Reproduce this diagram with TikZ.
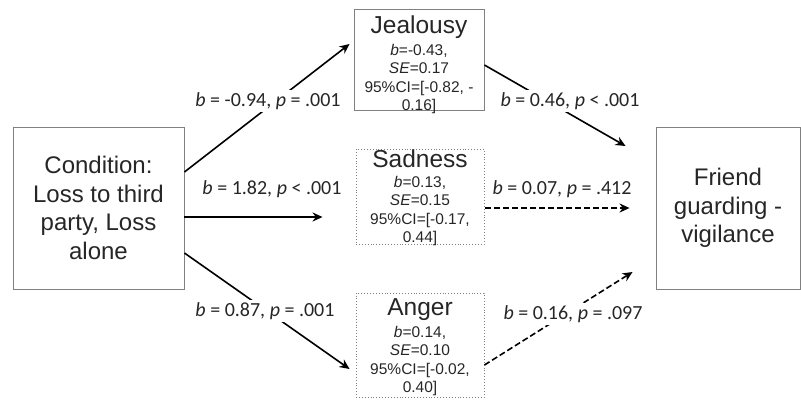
\documentclass[tikz,border=0pt]{standalone}
\usepackage{fontspec}
\setmainfont{Liberation Sans}
\newfontfamily\calfont{Carlito}
\usepackage{xcolor}
\usetikzlibrary{arrows.meta,positioning}
\definecolor{boxgray}{RGB}{128,128,128}
\definecolor{txtgray}{RGB}{38,38,38}

\begin{document}
\begin{tikzpicture}[x=1pt,y=-1pt]
\tikzstyle{every node}+=[inner sep=0pt]
\tikzstyle{solidbox}=[draw=boxgray, line width=0.9pt]
\tikzstyle{dotbox}=[draw=boxgray, line width=0.9pt, dotted]
\tikzstyle{bigtxt}=[text=txtgray, align=center, font=\fontsize{24}{28.5}\selectfont]
\tikzstyle{medtitle}=[text=txtgray, anchor=base, font=\fontsize{24.5}{28}\selectfont]
\tikzstyle{medbody}=[text=txtgray, anchor=north, align=center, font=\fontsize{15.5}{18.5}\selectfont]
\tikzstyle{elabel}=[text=txtgray, fill=white, inner sep=2pt, font=\calfont\fontsize{20}{24}\selectfont]
\tikzstyle{arr}=[black, line width=1.6pt, -{Stealth[length=10pt,width=9pt]}]
\tikzstyle{darr}=[arr, dash pattern=on 6pt off 3pt]
\useasboundingbox (0,0) rectangle (801,400);
    % outer boxes
    \node[solidbox, bigtxt, minimum width=171pt, minimum height=162pt] (cond) at (98.5,208)
        {Condition:\\Loss to third\\party, Loss\\alone};
    \node[solidbox, bigtxt, minimum width=144pt, minimum height=162pt] (friend) at (728,208)
        {Friend\\guarding -\\vigilance};
    % mediators
    \node[solidbox, minimum width=130pt, minimum height=101pt] (jeal) at (419,59.5) {};
    \node[medtitle] (jealt) at (419,33) {Jealousy};
    \node[medbody] (jealb) at (419,43.7)
        {\textit{b}=-0.43,\\\textit{SE}=0.17\\95\%CI=[-0.82, -\\0.16]};
    \node[dotbox, minimum width=128pt, minimum height=95pt] (sad) at (420,196.5) {};
    \node[medtitle] (sadt) at (420,167) {Sadness};
    \node[medbody] (sadb) at (420,175.7)
        {\textit{b}=0.13,\\\textit{SE}=0.15\\95\%CI=[-0.17,\\0.44]};
    \node[dotbox, minimum width=128pt, minimum height=104pt] (anger) at (420,345) {};
    \node[medtitle] (angert) at (420,315) {Anger};
    \node[medbody] (angerb) at (420,325.7)
        {\textit{b}=0.14,\\\textit{SE}=0.10\\95\%CI=[-0.02,\\0.40]};
    % paths
    \draw[arr] ([yshift=36pt]cond.east) -- ([xshift=-4pt,yshift=15.5pt]jeal.west);
    \draw[arr] ([yshift=-9pt]cond.east) -- ([xshift=-33pt,yshift=-9pt]cond.east -| sad.west);
    \draw[arr] ([yshift=-45pt]cond.east) -- ([xshift=-6pt,yshift=-24pt]anger.west);
    \draw[arr] ([yshift=-5.5pt]jeal.east) -- ([xshift=-30pt,yshift=62pt]friend.west);
    \draw[darr] ([xshift=1pt,yshift=-11.5pt]sad.east) -- ([xshift=-26pt]friend.west);
    \draw[darr] ([yshift=-20pt]anger.east) -- ([xshift=-23pt,yshift=-64pt]friend.west);
    % coefficients
    \node[elabel] (lcj) at (268,101) {\textit{b} = -0.94, \textit{p} = .001};
    \node[elabel] (lcs) at (272,189) {\textit{b} = 1.82, \textit{p} < .001};
    \node[elabel] (lca) at (265,311) {\textit{b} = 0.87, \textit{p} = .001};
    \node[elabel] (ljf) at (570,101) {\textit{b} = 0.46, \textit{p} < .001};
    \node[elabel] (lsf) at (562,189) {\textit{b} = 0.07, \textit{p} = .412};
    \node[elabel] (laf) at (573,314) {\textit{b} = 0.16, \textit{p} = .097};
\end{tikzpicture}
\end{document}
